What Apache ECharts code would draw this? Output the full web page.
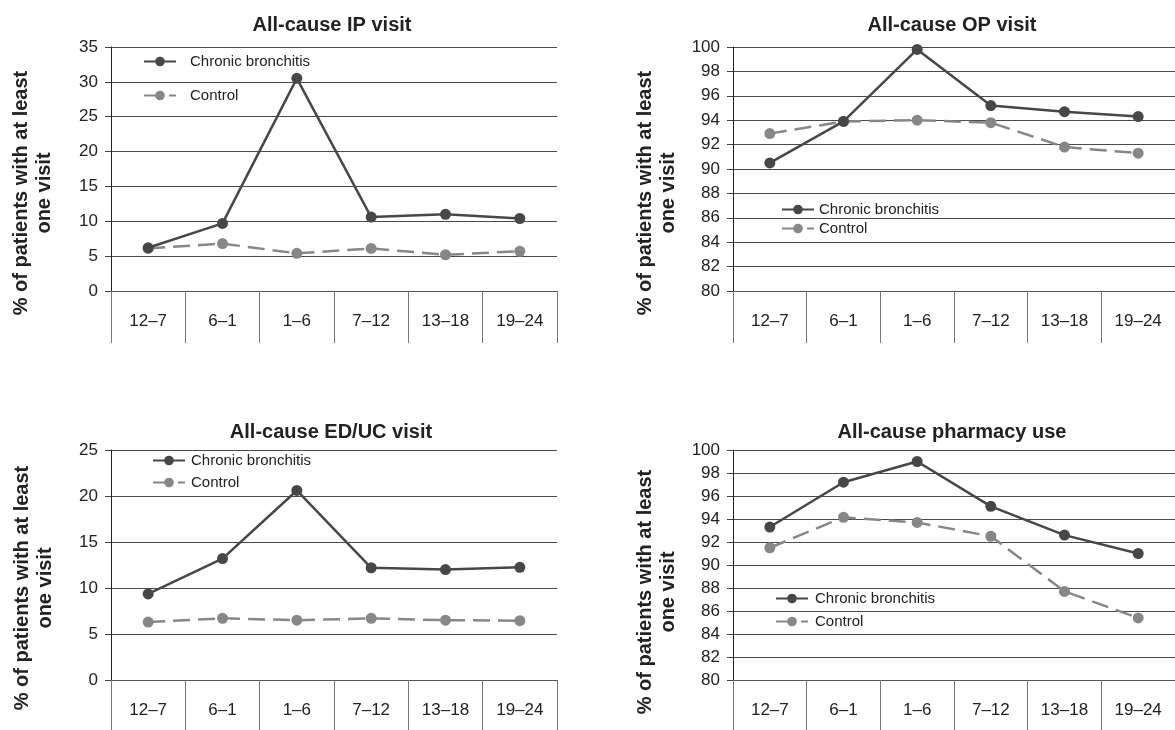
<!DOCTYPE html>
<html>
<head>
<meta charset="utf-8">
<script src="https://cdn.jsdelivr.net/npm/echarts@6/dist/echarts.min.js"></script>
<style>
html,body{margin:0;padding:0;background:#fff;}
#c{width:1175px;height:730px;}
</style>
</head>
<body>
<div id="c"></div>
<script>
const categories = ['12\u20137', '6\u20131', '1\u20136', '7\u201312', '13\u201318', '19\u201324'];

const ipChronic  = [6.2, 9.7, 30.5, 10.6, 11.0, 10.4];
const ipControl  = [6.1, 6.8, 5.4, 6.1, 5.2, 5.7];

const opChronic  = [90.5, 93.9, 99.8, 95.2, 94.7, 94.3];
const opControl  = [92.9, 93.9, 94.0, 93.8, 91.8, 91.3];

const edChronic  = [9.35, 13.2, 20.6, 12.2, 12.0, 12.25];
const edControl  = [6.3, 6.7, 6.5, 6.7, 6.5, 6.45];

const rxChronic  = [93.3, 97.2, 99.0, 95.1, 92.6, 91.0];
const rxControl  = [91.5, 94.15, 93.7, 92.5, 87.7, 85.4];

const titles = ['All-cause IP visit', 'All-cause OP visit', 'All-cause ED/UC visit', 'All-cause pharmacy use'];
const seriesNames = ['Chronic bronchitis', 'Control'];
const yAxisName = '% of patients with at least\none visit';

const FONT = '"Liberation Sans", Arial, sans-serif';
const DARK = '#474747', LIGHT = '#878787';

const grids = [
  {left: 111, top: 47,  width: 446, height: 244},
  {left: 733, top: 47,  width: 452, height: 244},
  {left: 111, top: 450, width: 446, height: 230},
  {left: 733, top: 450, width: 452, height: 230}
];
const yRanges = [[0, 35, 5], [80, 100, 2], [0, 25, 5], [80, 100, 2]];
const dataSets = [[ipChronic, ipControl], [opChronic, opControl], [edChronic, edControl], [rxChronic, rxControl]];
const titlePos = [[332, 15], [952, 15], [331, 422], [952, 422]];
const legendPos = [[143, 54, 19, 14], [781, 202, 4, 5], [152, 453, 7, 6], [775, 591, 8, 7]];
const namePos = [[33, 193], [657, 193], [34, 588], [657, 592]];

const option = {
  animation: false,
  backgroundColor: '#fff',
  textStyle: {fontFamily: FONT},
  title: titles.map((t, i) => ({
    text: t, left: titlePos[i][0], top: titlePos[i][1], textAlign: 'center', padding: 0,
    textStyle: {fontFamily: FONT, fontSize: 20, fontWeight: 'bold', color: '#222'}
  })),
  legend: legendPos.map(p => ({
    orient: 'vertical', left: p[0], top: p[1], itemGap: p[2], padding: 0,
    itemWidth: 32, itemHeight: 12,
    data: seriesNames,
    textStyle: {fontFamily: FONT, fontSize: 15, color: '#222', padding: [0, 0, 0, p[3] - 5]}
  })),
  grid: grids.map(g => Object.assign({containLabel: false}, g)),
  xAxis: grids.map((g, i) => ({
    type: 'category', gridIndex: i, data: categories, boundaryGap: true,
    axisLine: {show: true, lineStyle: {color: '#555', width: 1}},
    axisTick: {show: true, length: 52, lineStyle: {color: '#777', width: 1}},
    axisLabel: {margin: 22, fontSize: 17, color: '#222', fontFamily: FONT},
    splitLine: {show: false}
  })),
  yAxis: grids.map((g, i) => ({
    type: 'value', gridIndex: i, min: yRanges[i][0], max: yRanges[i][1], interval: yRanges[i][2],
    axisLine: {show: true, lineStyle: {color: '#222', width: 1}},
    axisTick: {show: true, length: 6, lineStyle: {color: '#444'}},
    axisLabel: {margin: 13, fontSize: 17, color: '#222', fontFamily: FONT},
    splitLine: {show: true, lineStyle: {color: '#4a4a4a', width: 1}}
  })),
  graphic: namePos.map(p => ({
    type: 'text', x: p[0], y: p[1], rotation: Math.PI / 2,
    style: {
      text: yAxisName, font: 'bold 20px ' + FONT, fill: '#222',
      textAlign: 'center', align: 'center', textVerticalAlign: 'middle', verticalAlign: 'middle',
      lineHeight: 23
    }
  })),
  series: []
};

dataSets.forEach((pair, i) => {
  option.series.push({
    name: seriesNames[1], type: 'line', xAxisIndex: i, yAxisIndex: i, data: pair[1],
    symbol: 'circle', symbolSize: 11, showSymbol: true,
    lineStyle: {color: LIGHT, width: 2.5, type: [17, 8]},
    itemStyle: {color: LIGHT}, z: 2
  });
  option.series.push({
    name: seriesNames[0], type: 'line', xAxisIndex: i, yAxisIndex: i, data: pair[0],
    symbol: 'circle', symbolSize: 11, showSymbol: true,
    lineStyle: {color: DARK, width: 2.5, type: 'solid'},
    itemStyle: {color: DARK}, z: 3
  });
});

const chart = echarts.init(document.getElementById('c'), null, {renderer: 'canvas'});
chart.setOption(option);
</script>
</body>
</html>
